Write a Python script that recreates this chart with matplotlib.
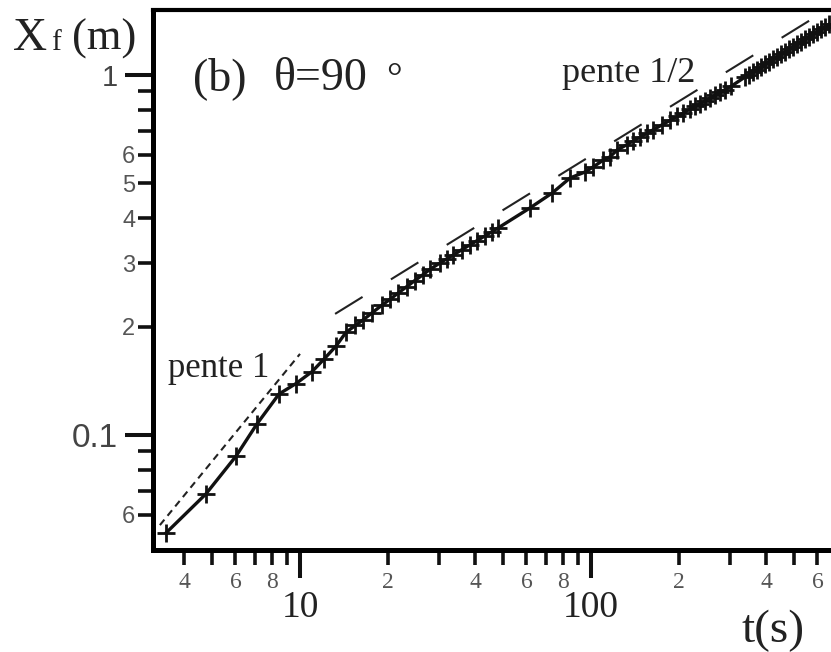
import matplotlib
matplotlib.use("Agg")
import matplotlib.pyplot as plt
from matplotlib.ticker import FixedLocator, FixedFormatter

# front position Xf (m) against time t (s)
t_data = [3.46, 4.75, 6.03, 7.11, 8.47, 9.69, 11.0, 12.1, 13.3, 14.4,
          15.5, 16.5, 17.7, 19.1, 20.4, 21.7, 23.3, 24.8, 26.5, 28.0,
          30.3, 32.0, 33.6, 36.0, 38.4, 40.6, 43.2, 45.7, 47.9,
          61.6, 73.5, 84.7, 95.3, 101.6, 110, 116, 123,
          133, 139.4, 147.4, 155.8, 163.4, 175.4, 186.8, 197.5, 207.2, 218.9,
          227.8, 236.9, 246.5, 256.4, 266.8, 277.5, 288.8, 302.8,
          338.2, 349.1, 360.3, 371.9, 383.9, 396.2, 408.9, 422.1, 435.7, 449.7,
          464.2, 479.1, 494.6, 510.5, 526.9, 543.9, 561.3, 579.4, 597.9, 617.2,
          637.0, 657.6]
xf_data = [0.0534, 0.0686, 0.0874, 0.1073, 0.130, 0.139, 0.150, 0.1626, 0.1767, 0.193,
           0.2015, 0.209, 0.2186, 0.2293, 0.2383, 0.2477, 0.2585, 0.2686, 0.2791, 0.2887,
           0.3008, 0.309, 0.316, 0.3273, 0.3376, 0.3467, 0.3575, 0.3673, 0.3758,
           0.427, 0.470, 0.5176, 0.5377, 0.555, 0.580, 0.592, 0.619,
           0.641, 0.6557, 0.672, 0.689, 0.704, 0.727, 0.748, 0.767, 0.784, 0.804,
           0.818, 0.833, 0.848, 0.863, 0.879, 0.895, 0.911, 0.930,
           0.9873, 1.0033, 1.0195, 1.0359, 1.0527, 1.0698, 1.0870, 1.1046, 1.1224, 1.1406,
           1.1590, 1.1778, 1.1969, 1.2163, 1.2359, 1.2560, 1.2763, 1.2969, 1.3179, 1.3392,
           1.3610, 1.3830]

# guide lines
slope1_t = [3.3, 10.0]
slope1_xf = [0.0562, 0.168]
slope_half_t = [13.2, 640.0]
slope_half_xf = [0.217, 1.51]

x_major = [10, 100]
x_major_labels = ["10", "100"]
x_minor = [4, 5, 6, 7, 8, 9, 20, 30, 40, 50, 60, 70, 80, 90, 200, 300, 400, 500, 600]
x_minor_labels = ["4", "", "6", "", "8", "", "2", "", "4", "", "6", "", "8", "",
                  "2", "", "4", "", "6"]
y_major = [0.1, 1]
y_major_labels = ["0.1", "1"]
y_minor = [0.06, 0.07, 0.08, 0.09, 0.2, 0.3, 0.4, 0.5, 0.6, 0.7, 0.8, 0.9]
y_minor_labels = ["6", "", "", "", "2", "3", "4", "5", "6", "", "", ""]

SERIF = "Liberation Serif"
SANS = "Liberation Sans"
W, H = 831, 652

fig = plt.figure(figsize=(W / 100, H / 100), dpi=100)
ax = fig.add_axes([153 / W, 1 - 550 / H, 1 - 153 / W, (550 - 10) / H])

ax.plot(t_data, xf_data, color="#111111", lw=2.4, marker="+", ms=13, mew=2.0)
ax.plot(slope1_t, slope1_xf, color="#222222", lw=1.5, dashes=(3.4, 2.4))
ax.plot(slope_half_t, slope_half_xf, color="#222222", lw=1.5, dashes=(15.5, 16))

ax.set_xscale("log")
ax.set_yscale("log")
ax.set_xlim(3.125, 667.8)
ax.set_ylim(0.04793, 1.5157)

ax.xaxis.set_major_locator(FixedLocator(x_major))
ax.xaxis.set_major_formatter(FixedFormatter(x_major_labels))
ax.xaxis.set_minor_locator(FixedLocator(x_minor))
ax.xaxis.set_minor_formatter(FixedFormatter(x_minor_labels))
ax.yaxis.set_major_locator(FixedLocator(y_major))
ax.yaxis.set_major_formatter(FixedFormatter(y_major_labels))
ax.yaxis.set_minor_locator(FixedLocator(y_minor))
ax.yaxis.set_minor_formatter(FixedFormatter(y_minor_labels))

ax.spines["right"].set_visible(False)
for side in ["left", "bottom"]:
    ax.spines[side].set_linewidth(3.6)
ax.spines["top"].set_linewidth(3.0)

ax.tick_params(axis="both", which="major", direction="out", length=20, width=2.9, color="#111111")
ax.tick_params(axis="both", which="minor", direction="out", length=10.8, width=2.6, color="#111111")
ax.tick_params(axis="x", which="major", pad=9, labelsize=27, labelcolor="#222222")
ax.tick_params(axis="x", which="minor", pad=5, labelsize=17, labelcolor="#555555")
ax.tick_params(axis="y", which="major", pad=5, labelsize=24, labelcolor="#444444")
ax.tick_params(axis="y", which="minor", pad=2, labelsize=17, labelcolor="#555555")
for lab in ax.get_xticklabels(which="both"):
    lab.set_family(SERIF)
for lab in ax.get_yticklabels(which="both"):
    lab.set_family(SANS)
ax.get_yticklabels()[1].set_fontsize(21)


def put(x, y, s, size, **kw):
    fig.text(x / W, 1 - y / H, s, fontsize=size, family=SERIF, color="#222222",
             va="baseline", ha="left", **kw)


put(13, 50, "X", 34)
put(51, 50, "f", 21)
put(72, 50, "(m)", 32)
put(193, 90, "(b)", 33)
put(274, 90, "θ=90", 33)
put(386, 90, "°", 28)
put(562, 82, "pente 1/2", 26)
put(168, 377, "pente 1", 25)
put(742, 642, "t(s)", 34)

fig.savefig("out.png", dpi=100)
